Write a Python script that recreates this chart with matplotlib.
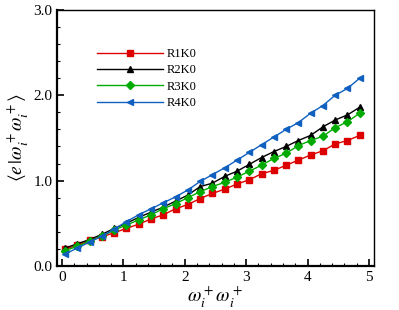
import numpy as np
import matplotlib
matplotlib.use("Agg")
import matplotlib.pyplot as plt
from matplotlib.ticker import MultipleLocator, FormatStrFormatter

plt.rcParams['font.family'] = 'Liberation Serif'
plt.rcParams['mathtext.fontset'] = 'stix'

# data
x = [0.05, 0.25, 0.45, 0.65, 0.85, 1.05, 1.25, 1.45, 1.65, 1.85, 2.05, 2.25, 2.45,
     2.65, 2.85, 3.05, 3.25, 3.45, 3.65, 3.85, 4.05, 4.25, 4.45, 4.65, 4.85]
r1k0 = [0.20, 0.24, 0.30, 0.34, 0.39, 0.44, 0.49, 0.55, 0.60, 0.67, 0.72, 0.79, 0.85,
        0.90, 0.96, 1.01, 1.08, 1.12, 1.18, 1.24, 1.30, 1.35, 1.43, 1.47, 1.53]
r2k0 = [0.21, 0.26, 0.31, 0.37, 0.44, 0.50, 0.57, 0.63, 0.69, 0.76, 0.83, 0.93, 0.97,
        1.05, 1.11, 1.19, 1.27, 1.34, 1.40, 1.47, 1.53, 1.63, 1.71, 1.77, 1.86]
r3k0 = [0.18, 0.23, 0.29, 0.35, 0.42, 0.48, 0.54, 0.60, 0.67, 0.73, 0.80, 0.87, 0.93,
        0.98, 1.04, 1.11, 1.18, 1.26, 1.32, 1.41, 1.47, 1.52, 1.62, 1.69, 1.79]
r4k0 = [0.14, 0.21, 0.28, 0.35, 0.43, 0.52, 0.60, 0.67, 0.74, 0.81, 0.89, 0.99, 1.07,
        1.15, 1.24, 1.33, 1.42, 1.51, 1.60, 1.68, 1.79, 1.88, 2.00, 2.08, 2.20]

fig = plt.figure(figsize=(3.99, 3.10), dpi=100)
ax = fig.add_axes([0.143, 0.142, 0.794, 0.826])

ax.plot(x, r1k0, color='#dd0000', marker='s', ms=4.2, lw=1.0, label='R1K0')
ax.plot(x, r2k0, color='black', marker='^', ms=4.8, lw=1.0, label='R2K0')
ax.plot(x, r3k0, color='#00aa00', marker='D', ms=4.2, lw=1.0, label='R3K0')
ax.plot(x, r4k0, color='#1060c0', marker='<', ms=4.8, lw=1.0, label='R4K0')

ax.set_xlim(-0.08, 5.08)
ax.set_ylim(0, 3)
ax.xaxis.set_major_locator(MultipleLocator(1))
ax.xaxis.set_minor_locator(MultipleLocator(0.2))
ax.yaxis.set_major_locator(MultipleLocator(1))
ax.yaxis.set_minor_locator(MultipleLocator(0.2))
ax.yaxis.set_major_formatter(FormatStrFormatter('%.1f'))
ax.tick_params(which='both', direction='in', labelsize=11, top=False, right=False)
ax.tick_params(which='major', length=5, width=1.2)
ax.tick_params(which='minor', length=2.5, width=0.8)
for s in ['left', 'bottom']:
    ax.spines[s].set_linewidth(1.6)
for s in ['top', 'right']:
    ax.spines[s].set_linewidth(1.0)

ax.set_xlabel(r'$\omega_i^+\omega_i^+$', fontsize=14, labelpad=0)
ax.set_ylabel(r'$\langle e\,|\omega_i^+\omega_i^+\rangle$', fontsize=14, labelpad=2)

ax.legend(loc='upper left', bbox_to_anchor=(0.095, 0.89), frameon=False, fontsize=9,
          handlelength=5.3, numpoints=1, labelspacing=0.35, handletextpad=0.3,
          borderpad=0.3)

fig.savefig('out.png', dpi=100)
